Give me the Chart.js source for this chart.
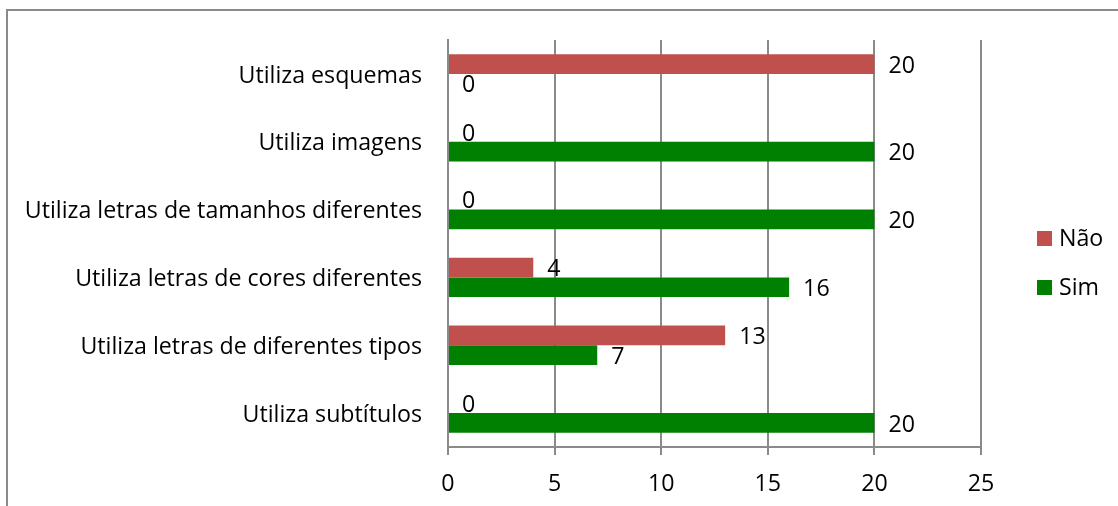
<!DOCTYPE html>
<html>
<head>
<meta charset="utf-8">
<script src="https://cdn.jsdelivr.net/npm/chart.js@4.4.1/dist/chart.umd.min.js"></script>
<style>
  html, body { margin: 0; padding: 0; background: #ffffff; }
  #wrap { width: 1118px; height: 506px; position: relative; }
</style>
</head>
<body>
<div id="wrap"><canvas id="chart" width="1118" height="506"></canvas></div>
<script>
// Categories, listed top to bottom
const categories = [
  'Utiliza esquemas',
  'Utiliza imagens',
  'Utiliza letras de tamanhos diferentes',
  'Utiliza letras de cores diferentes',
  'Utiliza letras de diferentes tipos',
  'Utiliza subtítulos'
];
const seriesNames = ['Não', 'Sim'];
const naoValues = [20, 0, 0, 4, 13, 0];
const simValues = [0, 20, 20, 16, 7, 20];
const xTicks = [0, 5, 10, 15, 20, 25];

const FONT = '"Open Sans"';
const FONT_SIZE = 23.2;
const GRID = '#8a8a8a';
const colors = { 'Não': '#C0504D', 'Sim': '#008000' };

// Outer frame of the chart
const framePlugin = {
  id: 'frame',
  beforeDraw(chart) {
    const ctx = chart.ctx;
    ctx.save();
    ctx.fillStyle = '#ffffff';
    ctx.fillRect(0, 0, chart.width, chart.height);
    ctx.strokeStyle = GRID;
    ctx.lineWidth = 2;
    ctx.strokeRect(7, 10, chart.width + 50, chart.height + 50);
    ctx.restore();
  }
};

// Value labels placed just past the end of every bar
const valueLabels = {
  id: 'valueLabels',
  afterDatasetsDraw(chart) {
    const ctx = chart.ctx;
    ctx.save();
    ctx.font = FONT_SIZE + 'px ' + FONT;
    ctx.fillStyle = '#000000';
    ctx.textAlign = 'left';
    ctx.textBaseline = 'middle';
    chart.data.datasets.forEach((ds, i) => {
      const meta = chart.getDatasetMeta(i);
      meta.data.forEach((bar, j) => {
        ctx.fillText(String(ds.data[j]), bar.x + 14, bar.y + 2);
      });
    });
    ctx.restore();
  }
};

// Legend on the right, one entry per series
const sideLegend = {
  id: 'sideLegend',
  afterDraw(chart) {
    const ctx = chart.ctx;
    ctx.save();
    ctx.font = FONT_SIZE + 'px ' + FONT;
    ctx.textBaseline = 'middle';
    ctx.textAlign = 'left';
    const ys = [239, 288];
    chart.data.datasets.forEach((ds, i) => {
      ctx.fillStyle = ds.backgroundColor;
      ctx.fillRect(1037, ys[i] - 8, 15, 15);
      ctx.fillStyle = '#000000';
      ctx.fillText(ds.label, 1059, ys[i]);
    });
    ctx.restore();
  }
};

new Chart(document.getElementById('chart'), {
  type: 'bar',
  data: {
    labels: categories,
    datasets: [
      { label: seriesNames[0], data: naoValues, backgroundColor: colors['Não'] },
      { label: seriesNames[1], data: simValues, backgroundColor: colors['Sim'] }
    ]
  },
  options: {
    indexAxis: 'y',
    responsive: false,
    animation: false,
    devicePixelRatio: 1,
    categoryPercentage: 0.58,
    barPercentage: 1.0,
    layout: { padding: { left: 0, top: 40, right: 137, bottom: 0 } },
    plugins: {
      legend: { display: false },
      tooltip: { enabled: false }
    },
    scales: {
      x: {
        min: 0,
        max: 25,
        afterBuildTicks(scale) { scale.ticks = xTicks.map(v => ({ value: v })); },
        afterFit(scale) { scale.height = 59; },
        grid: { color: GRID, lineWidth: 2, drawTicks: true, tickLength: 8, tickColor: GRID },
        border: { display: true, color: GRID, width: 2 },
        ticks: { font: { family: FONT, size: FONT_SIZE }, color: '#000000', padding: 15 }
      },
      y: {
        afterFit(scale) { scale.width = 448; },
        grid: { display: false, drawTicks: false },
        border: { display: true, color: GRID, width: 2 },
        ticks: { font: { family: FONT, size: FONT_SIZE }, color: '#000000', padding: 26, labelOffset: 2 }
      }
    }
  },
  plugins: [framePlugin, valueLabels, sideLegend]
});
</script>
</body>
</html>
